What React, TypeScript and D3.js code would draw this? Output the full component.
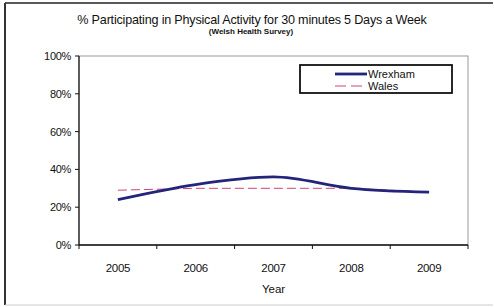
import React from 'react';
import * as d3 from 'd3';

const years = ['2005', '2006', '2007', '2008', '2009'];
const wrexham = [24, 32, 36, 30, 28];
const wales = [29, 30, 30, 30, 28];
const yTicks = [0, 20, 40, 60, 80, 100];

const W = 494;
const H = 307;
const plot = { left: 79, right: 468, top: 56, bottom: 245 };
const font = '"Liberation Sans", Arial, sans-serif';

const App: React.FC = () => {
  const x = d3.scaleBand<string>().domain(years).range([plot.left, plot.right]).padding(0);
  const y = d3.scaleLinear().domain([0, 100]).range([plot.bottom, plot.top]);

  const cx = (d: string) => (x(d) ?? 0) + x.bandwidth() / 2;

  const smooth = d3
    .line<number>()
    .x((_, i) => cx(years[i]))
    .y((v) => y(v))
    .curve(d3.curveMonotoneX);

  const straight = d3
    .line<number>()
    .x((_, i) => cx(years[i]))
    .y((v) => y(v));

  const bandEdges = years.map((d) => x(d) ?? 0).concat([plot.right]);

  return (
    <svg
      width={W}
      height={H}
      style={{ position: 'absolute', left: 0, top: 0, background: '#fff' }}
      fontFamily={font}
    >
      {/* outer frame */}
      <line x1={5} y1={3} x2={493} y2={3} stroke="#222" strokeWidth={1.5} />
      <line x1={5} y1={3} x2={5} y2={305} stroke="#333" strokeWidth={2} />
      <line x1={5} y1={305} x2={493} y2={305} stroke="#ccc" strokeWidth={1} />

      {/* title */}
      <text x={252} y={24} textAnchor="middle" fontSize={12.6} fill="#111" letterSpacing={-0.2}>
        % Participating in Physical Activity for 30 minutes 5 Days a Week
      </text>
      <text x={251} y={34} textAnchor="middle" fontSize={8} fontWeight="bold" fill="#111">
        (Welsh Health Survey)
      </text>

      {/* plot area frame */}
      <rect
        x={plot.left}
        y={plot.top}
        width={plot.right - plot.left}
        height={plot.bottom - plot.top}
        fill="none"
        stroke="#999"
        strokeWidth={1}
      />

      {/* y axis */}
      <line x1={plot.left} y1={plot.top} x2={plot.left} y2={plot.bottom} stroke="#111" strokeWidth={1.2} />
      {yTicks.map((t) => (
        <g key={t}>
          <line x1={plot.left - 4} y1={y(t)} x2={plot.left} y2={y(t)} stroke="#111" />
          <text x={plot.left - 8} y={y(t) + 4} textAnchor="end" fontSize={11} fill="#111" letterSpacing={-0.3}>
            {t}%
          </text>
        </g>
      ))}

      {/* x axis */}
      <line x1={plot.left} y1={plot.bottom} x2={plot.right} y2={plot.bottom} stroke="#111" strokeWidth={1.5} />
      {bandEdges.map((e, i) => (
        <line key={i} x1={e} y1={plot.bottom} x2={e} y2={plot.bottom + 4} stroke="#111" />
      ))}
      {years.map((d) => (
        <text key={d} x={cx(d)} y={272} textAnchor="middle" fontSize={11.5} fill="#111" letterSpacing={-0.3}>
          {d}
        </text>
      ))}
      <text x={(plot.left + plot.right) / 2} y={293} textAnchor="middle" fontSize={11.5} fill="#111">
        Year
      </text>

      {/* series */}
      <path d={straight(wales) ?? ''} fill="none" stroke="#d0407a" strokeWidth={1} strokeDasharray="9,4" />
      <path d={smooth(wrexham) ?? ''} fill="none" stroke="#24247a" strokeWidth={2.8} />

      {/* legend */}
      <rect x={300} y={65} width={152} height={28} fill="#fff" stroke="#111" strokeWidth={1.8} />
      <line x1={335} y1={74} x2={367} y2={74} stroke="#24247a" strokeWidth={2.8} />
      <text x={368} y={78} fontSize={11} fill="#111">
        Wrexham
      </text>
      <line x1={335} y1={86} x2={367} y2={86} stroke="#d0407a" strokeWidth={1} strokeDasharray="11,5" />
      <text x={368} y={90} fontSize={11} fill="#111">
        Wales
      </text>
    </svg>
  );
};

export default App;
